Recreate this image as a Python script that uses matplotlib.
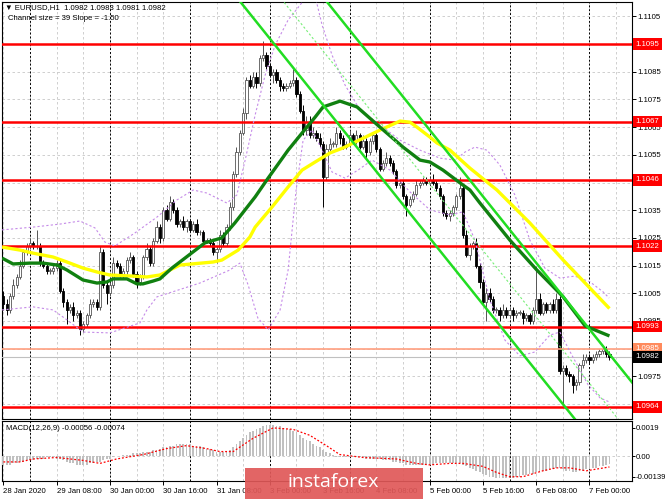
import matplotlib
matplotlib.use("Agg")
import matplotlib.pyplot as plt
import matplotlib.transforms as mtransforms
from matplotlib.patches import Rectangle

PIP = 0.0001

# ---------------- data ----------------
first_open = 1.1004
closes = [
    1.1001, 1.0999, 1.1004, 1.1008, 1.1011, 1.1015, 1.1020, 1.1022, 1.1023, 1.1022,
    1.1022, 1.1016, 1.1015, 1.1013, 1.1013, 1.1014, 1.1016, 1.1006, 1.1002, 1.0999,
    1.1000, 1.0997, 1.0998, 1.0992, 1.0994, 1.0997, 1.1001, 1.1002, 1.1000, 1.1020,
    1.1008, 1.1005, 1.1008, 1.1016, 1.1015, 1.1012, 1.1013, 1.1017, 1.1018, 1.1012,
    1.1009, 1.1011, 1.1018, 1.1021, 1.1016, 1.1024, 1.1029, 1.1025, 1.1035, 1.1032,
    1.1038, 1.1035, 1.1030, 1.1031, 1.1029, 1.1031, 1.1028, 1.1030, 1.1027, 1.1027,
    1.1024, 1.1024, 1.1023, 1.1020, 1.1021, 1.1026, 1.1023, 1.1029, 1.1036, 1.1048,
    1.1056, 1.1063, 1.1070, 1.1082, 1.1080, 1.1083, 1.1081, 1.1090, 1.1091, 1.1087,
    1.1084, 1.1085, 1.1082, 1.1080, 1.1079, 1.1080, 1.1081, 1.1082, 1.1077, 1.1071,
    1.1064, 1.1067, 1.1062, 1.1063, 1.1061, 1.1059, 1.1047, 1.1057, 1.1059, 1.1059,
    1.1063, 1.1061, 1.1058, 1.1059, 1.1062, 1.1060, 1.1062, 1.1058, 1.1060, 1.1056,
    1.1060, 1.1062, 1.1057, 1.1050, 1.1052, 1.1054, 1.1052, 1.1049, 1.1044, 1.1045,
    1.1040, 1.1037, 1.1039, 1.1041, 1.1044, 1.1045, 1.1046, 1.1045, 1.1046, 1.1045,
    1.1043, 1.1040, 1.1034, 1.1033, 1.1034, 1.1036, 1.1040, 1.1043, 1.1026, 1.1019,
    1.1022, 1.1023, 1.1015, 1.1009, 1.1002, 1.1005, 1.1003, 1.0999, 1.0999, 1.0997,
    1.0999, 1.0997, 1.0999, 1.0997, 1.0998, 1.0998, 1.0996, 1.0997, 1.0995, 1.0999,
    1.1003, 1.0998, 1.1001, 1.0999, 1.1001, 1.0999, 1.1003, 1.0977, 1.0978, 1.0976,
    1.0975, 1.0972, 1.0973, 1.0979, 1.0981, 1.0982, 1.0981, 1.0982, 1.0983, 1.0984,
    1.0985, 1.0983, 1.0982,
]
wick_up = [
    2, 2, 1, 2, 1, 2, 1, 1, 2, 1,   6, 1, 1, 1, 1, 2, 1, 1, 1, 1,
    1, 2, 1, 1, 1, 1, 2, 1, 1, 2,   1, 1, 1, 2, 1, 1, 1, 1, 2, 1,
    1, 1, 1, 2, 1, 1, 2, 1, 1, 2,   2, 1, 1, 1, 2, 1, 1, 1, 2, 1,
    1, 1, 1, 1, 1, 2, 1, 1, 2, 1,   2, 1, 2, 1, 2, 2, 2, 1, 5, 1,
    1, 1, 1, 1, 1, 1, 1, 4, 1, 1,   2, 2, 2, 2, 1, 2, 1, 2, 2, 1,
    2, 1, 1, 1, 2, 1, 2, 1, 2, 1,   1, 1, 1, 1, 1, 2, 1, 1, 1, 1,
    1, 1, 1, 1, 2, 1, 1, 1, 1, 2,   1, 1, 1, 1, 1, 1, 1, 4, 1, 2,
    1, 1, 2, 1, 1, 2, 2, 1, 1, 1,   2, 1, 1, 1, 1, 1, 1, 1, 1, 1,
    12, 2, 1, 1, 1, 2, 2, 1, 1, 1,  1, 1, 1, 1, 2, 1, 1, 1, 1, 1,
    1, 1, 1,
]
wick_dn = [
    2, 2, 1, 1, 1, 1, 1, 1, 1, 1,   1, 1, 1, 1, 1, 1, 1, 1, 2, 5,
    1, 2, 1, 2, 1, 1, 1, 1, 1, 1,   1, 4, 1, 1, 1, 1, 2, 1, 1, 1,
    2, 1, 1, 1, 1, 1, 1, 2, 1, 1,   1, 1, 1, 1, 1, 2, 1, 1, 1, 1,
    1, 1, 1, 1, 4, 1, 1, 1, 1, 1,   1, 1, 1, 2, 1, 1, 2, 1, 1, 1,
    1, 3, 1, 2, 1, 1, 1, 1, 1, 1,   2, 2, 1, 1, 1, 1, 11, 1, 1, 1,
    1, 2, 1, 1, 1, 1, 1, 1, 1, 2,   1, 1, 1, 1, 1, 1, 1, 1, 1, 1,
    1, 4, 1, 1, 1, 1, 1, 1, 1, 1,   1, 1, 1, 1, 2, 1, 1, 1, 1, 1,
    2, 1, 1, 2, 1, 7, 1, 1, 1, 2,   1, 1, 1, 2, 1, 1, 2, 1, 1, 1,
    1, 1, 1, 1, 1, 1, 1, 1, 13, 1,  2, 3, 2, 1, 1, 1, 1, 1, 1, 1,
    1, 1, 1,
]

# MACD histogram (x1e-4) and signal line samples
macd_hist = [
    -6, -6, -6, -5, -5, -4, -4, -3, -3, -3,  -2, -2, -2, -1, -1, -1, -2, -2, -3, -4,
    -5, -5, -6, -6, -6, -6, -5, -5, -4, -4,  -3, -2, -2, -1, 0, 0, 1, 1, 1, 2,
    2, 2, 3, 3, 3, 4, 4, 5, 6, 6,            7, 7, 8, 8, 8, 8, 8, 7, 7, 7,
    6, 5, 5, 4, 3, 3, 3, 3, 4, 6,            8, 10, 12, 14, 16, 17, 18, 19, 20, 21,
    21, 21, 20, 20, 19, 18, 18, 17, 16, 14,  12, 11, 10, 8, 7, 6, 4, 3, 2, 1,
    -1, -1, -1, -1, -1, -1, -1, -1, -1, -2,  -2, -2, -2, -2, -3, -3, -3, -4, -4, -5,
    -5, -6, -6, -6, -6, -6, -6, -6, -6, -6,  -5, -5, -5, -5, -5, -5, -5, -5, -6, -7,
    -8, -9, -10, -11, -12, -13, -14, -14, -15, -15,
    -15, -15, -15, -15, -14, -14, -13, -13, -12, -12,
    -11, -11, -10, -10, -9, -9, -8, -8, -9, -10,
    -10, -11, -11, -10, -10, -9, -9, -8, -8, -7,
    -7, -6, -5.6,
]
signal_bar = [0, 5, 9, 16, 24, 29, 34, 42, 49, 55, 61, 65, 69, 75, 81, 87, 92, 97, 101,
              108, 118, 124, 128, 134, 138, 144, 148, 152, 156, 162, 166, 170, 175, 182]
signal_val = [-4, -4, -2, -1, -3, -5, -2, 1, 5, 7, 5, 3, 3, 12, 19, 18, 14, 7, 1,
              -1, -2, -5, -6, -5, -5, -7, -11, -14, -14, -10, -8, -8, -10, -7.4]

# moving averages (bar index, price)
green_bar = [-0.4, 2.9, 8, 11.9, 16.1, 19.1, 23.9, 28.1, 31.1, 32.9, 37.1, 40.1, 41.9, 44.9,
             47, 50.6, 60.5, 65.6, 69.5, 75.6, 79.5, 85.5, 89.7, 93.6, 96, 101.1, 106.2,
             113.1, 120, 125.1, 128.1, 132, 138, 140.1, 143.1, 152.1, 160.2, 168.1, 174.7, 182]
green_val = [1.10177, 1.10156, 1.10159, 1.10159, 1.10152, 1.10134, 1.10098, 1.10087, 1.10091,
             1.10102, 1.10102, 1.10084, 1.10084, 1.10094, 1.10102, 1.10141, 1.10232, 1.10250,
             1.10304, 1.10398, 1.10466, 1.10567, 1.10629, 1.10686, 1.10723, 1.10744, 1.10723,
             1.10650, 1.10578, 1.10531, 1.10524, 1.10495, 1.10441, 1.10423, 1.10376, 1.10242,
             1.10134, 1.10037, 1.09932, 1.09896]
yellow_bar = [-0.4, 5, 8.9, 14.9, 19.1, 23.9, 28.1, 32, 38.9, 43.1, 47, 53, 63, 65.6, 69,
              70.5, 74, 75.6, 80.7, 85.5, 89.7, 93.6, 98.1, 102, 108, 113, 119.1, 122.1,
              124.2, 128.1, 130.2, 134.1, 140.1, 148.2, 158.1, 168.1, 182]
yellow_val = [1.10217, 1.10206, 1.10195, 1.10181, 1.10163, 1.10141, 1.10127, 1.10116, 1.10112,
              1.10109, 1.10116, 1.10152, 1.10163, 1.10170, 1.10195, 1.10206, 1.10253, 1.10289,
              1.10362, 1.10434, 1.10495, 1.10524, 1.10557, 1.10575, 1.10610, 1.10639, 1.10672,
              1.10668, 1.10650, 1.10614, 1.10593, 1.10567, 1.10502, 1.10423, 1.10304, 1.10170,
              1.09995]

# envelope bands (purple dashed)
band_up_bar = [-0.4, 8.9, 17, 23, 27.5, 30.5, 33.5, 39.5, 46.1, 52.1, 57, 61.1, 67.1, 70.1,
               72.6, 75.6, 78.6, 81.6, 85.5, 89.1, 92.1]
band_up_val = [1.10279, 1.10289, 1.10300, 1.10311, 1.10286, 1.10235, 1.10221, 1.10268, 1.10325,
               1.10387, 1.10423, 1.10412, 1.10376, 1.10405, 1.10531, 1.10694, 1.10838, 1.10946,
               1.11037, 1.11091, 1.1114]
band_up2_bar = [93.9, 95.7, 98.7, 102.6, 107.1, 113.1, 119.1, 125.1, 131.1, 135.6, 138.6,
                141.6, 145.2, 149.1, 153.6, 158.1, 162.6, 167.1, 171.6, 176.2, 180.1, 181.9]
band_up2_val = [1.11109, 1.11019, 1.10910, 1.10802, 1.10712, 1.10658, 1.10603, 1.10567,
                1.10538, 1.10531, 1.10560, 1.10578, 1.10567, 1.10513, 1.10405, 1.10242,
                1.10141, 1.10105, 1.10112, 1.10091, 1.10055, 1.10033]
band_dn_bar = [-0.4, 8.9, 14.9, 19.1, 23.9, 32, 41, 43.1, 46.1, 59, 68, 71, 73.5, 76.4,
               79.5, 83.1, 85.5, 87.9, 90, 92.7, 95.7, 98.7, 102.6, 106.5, 110.7, 116.1,
               122.1, 128.1, 134.1, 138, 141.6, 146.1, 150.6, 155.1, 159.6, 164.1, 167.1,
               170.7, 175.6, 179.2, 181.9]
band_dn_val = [1.09990, 1.10001, 1.09990, 1.09954, 1.09910, 1.09907, 1.09943, 1.09990, 1.10037,
               1.10087, 1.10134, 1.10159, 1.10080, 1.09961, 1.09918, 1.09990, 1.10134,
               1.10423, 1.10603, 1.10640, 1.10567, 1.10488, 1.10466, 1.10495, 1.10531,
               1.10495, 1.10416, 1.10351, 1.10333, 1.10344, 1.10242, 1.10026, 1.09881,
               1.09824, 1.09838, 1.09899, 1.09910, 1.09827, 1.09719, 1.09672, 1.09658]

# regression channel
channel_anchor_bar = 137
channel_anchor_mid = 1.1031
channel_slope_pips = -1.50
channel_width_pips = 39

red_levels = [1.1095, 1.1067, 1.1046, 1.1022, 1.0993, 1.0964]
orange_level = 1.0985
last_price = 1.0982
price_ticks = [1.1105, 1.1095, 1.1085, 1.1075, 1.1065, 1.1055, 1.1045, 1.1035, 1.1025,
               1.1015, 1.1005, 1.0995, 1.0985, 1.0975, 1.0965]
hidden_ticks = [1.1095, 1.0985, 1.0965]   # fully covered by the level tags
label_bars = [0, 16, 32, 48, 64, 80, 96, 112, 128, 144, 160, 176]
label_text = ["28 Jan 2020", "29 Jan 08:00", "30 Jan 00:00", "30 Jan 16:00", "31 Jan 08:00",
              "3 Feb 00:00", "3 Feb 16:00", "4 Feb 08:00", "5 Feb 00:00", "5 Feb 16:00",
              "6 Feb 08:00", "7 Feb 00:00"]
day_bars = [8, 32, 56, 80, 104, 128, 152, 176]
grid_bars = list(range(0, 189, 8))
macd_ticks = [0.0019, 0.0, -0.00139]
macd_tick_text = ["0.0019", "0.00", "-0.00139"]

# ---------------- figure ----------------
FONT = ["Liberation Sans", "DejaVu Sans"]
plt.rcParams["font.family"] = FONT
FS = 5.6

W, H = 665, 499
fig = plt.figure(figsize=(W / 100, H / 100), dpi=100)
fig.patch.set_facecolor("white")
ax = fig.add_axes([2 / W, 80 / H, 630 / W, 417 / H])
axm = fig.add_axes([2 / W, 18 / H, 630 / W, 60 / H])

XMIN, XMAX = -0.42, 188.77
ax.set_xlim(XMIN, XMAX)
axm.set_xlim(XMIN, XMAX)
ax.set_ylim(1.09596, 1.11102)
axm.set_ylim(-0.001689, 0.002365)

for a in (ax, axm):
    for s in a.spines.values():
        s.set_color("black")
        s.set_linewidth(0.8)
    for gb in grid_bars:
        a.axvline(gb, color="#C8C8C8", lw=0.6, ls=(0, (3, 3)), zorder=0.5)
    for db in day_bars:
        a.axvline(db, color="black", lw=0.7, ls=(0, (2, 2)), zorder=0.6)

for p in price_ticks:
    ax.axhline(p, color="#C8C8C8", lw=0.6, ls=(0, (3, 3)), zorder=0.5)

# candles
opens = [first_open] + closes[:-1]
for i, (o, c, u, d) in enumerate(zip(opens, closes, wick_up, wick_dn)):
    hi = max(o, c) + u * PIP
    lo = min(o, c) - d * PIP
    bull = c >= o
    col = "#555555" if bull else "black"
    ax.vlines(i, lo, hi, color=col, lw=0.7, zorder=4)
    h = max(abs(c - o), 0.25 * PIP)
    ax.add_patch(Rectangle((i - 0.33, min(o, c)), 0.66, h,
                           fc="white" if bull else "black", ec=col, lw=0.6, zorder=5))

# horizontal levels
for lv in red_levels:
    ax.axhline(lv, color="#FF0000", lw=1.8, zorder=6)
ax.axhline(orange_level, color="#FFA080", lw=1.2, zorder=6)
ax.axhline(last_price, color="#C0C0C0", lw=0.8, zorder=3)

# bands
band_style = dict(color="#C58BE8", lw=0.8, ls=(0, (2, 2)), zorder=6.5)
ax.plot(band_up_bar, band_up_val, **band_style)
ax.plot(band_up2_bar, band_up2_val, **band_style)
ax.plot(band_dn_bar, band_dn_val, **band_style)

# moving averages
ax.plot(yellow_bar, yellow_val, color="#FFFF00", lw=2.4, zorder=7, solid_capstyle="butt")
ax.plot(green_bar, green_val, color="#108010", lw=2.4, zorder=7.2, solid_capstyle="butt")

# regression channel
cb = [XMIN, XMAX]
mid = [channel_anchor_mid + channel_slope_pips * PIP * (b - channel_anchor_bar) for b in cb]
half = channel_width_pips / 2 * PIP
ax.plot(cb, [m + half for m in mid], color="#22DD22", lw=1.8, zorder=8)
ax.plot(cb, [m - half for m in mid], color="#22DD22", lw=1.8, zorder=8)
ax.plot(cb, mid, color="#77EE77", lw=0.8, ls=(0, (2, 2)), zorder=8)

# price axis
ax.yaxis.tick_right()
ax.set_yticks(price_ticks)
ax.set_yticklabels(["" if p in hidden_ticks else f"{p:.4f}" for p in price_ticks])
ax.tick_params(axis="y", labelsize=FS, length=3, width=0.7, pad=1.0, colors="black")
ax.set_xticks([])

trans = mtransforms.blended_transform_factory(ax.transAxes, ax.transData)
def tag(level, fc):
    ax.text(1.0 + 3.5 / 630, level, f"{level:.4f}", transform=trans, ha="left", va="center",
            fontsize=FS, color="white", zorder=20, clip_on=False,
            bbox=dict(boxstyle="square,pad=0.3", fc=fc, ec="none"))
for lv in red_levels:
    tag(lv, "#FF0000")
tag(orange_level, "#FF8A5C")
tag(last_price, "black")

# MACD
axm.bar(range(len(macd_hist)), [v * 1e-4 for v in macd_hist], width=0.55,
        color="#C0C0C0", zorder=3)
axm.plot(signal_bar, [v * 1e-4 for v in signal_val], color="#FF0000", lw=0.9,
         ls=(0, (1.5, 1.5)), zorder=4)
axm.axhline(0, color="#C8C8C8", lw=0.6, ls=(0, (3, 3)), zorder=0.5)
axm.yaxis.tick_right()
axm.set_yticks(macd_ticks)
axm.set_yticklabels(macd_tick_text)
axm.tick_params(axis="y", labelsize=FS, length=2, width=0.7, pad=0.5)
axm.set_xticks(label_bars)
axm.set_xticklabels(label_text, ha="left")
axm.tick_params(axis="x", labelsize=FS, length=3, width=0.7, pad=2)

# texts
fig.text(5 / W, 1 - 8 / H, "\u25BC EURUSD,H1  1.0982 1.0983 1.0981 1.0982",
         fontsize=FS, va="center", ha="left", family=FONT)
fig.text(8 / W, 1 - 19 / H, "Channel size = 39 Slope = -1.50",
         fontsize=FS, va="center", ha="left")
fig.text(6 / W, 1 - 428 / H, "MACD(12,26,9) -0.00056 -0.00074",
         fontsize=FS, va="center", ha="left")

# watermark
fig.patches.append(Rectangle((245 / W, 0), 178 / W, 31 / H, transform=fig.transFigure,
                             fc="#E05858", ec="none", alpha=0.92, zorder=50))
fig.text(333 / W, 1 - 482 / H, "instaforex", fontsize=14, color="white", ha="center",
         va="center", family=["Open Sans", "DejaVu Sans"], zorder=51)

fig.savefig("out.png", dpi=100)
